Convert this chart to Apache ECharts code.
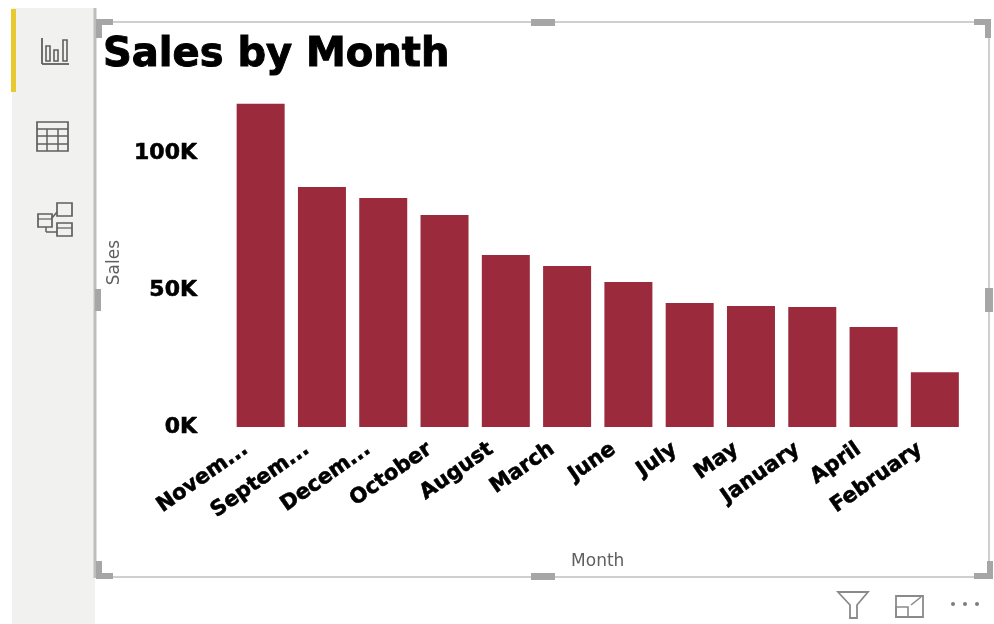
<!DOCTYPE html>
<html><head><meta charset="utf-8">
<style>html,body{margin:0;padding:0;background:#fff}#c{width:994px;height:624px}</style>
<script src="https://cdn.jsdelivr.net/npm/echarts@6/dist/echarts.min.js"></script></head>
<body><div id="c"></div>
<script>
const titleText = "Sales by Month";
const categories = ["Novem...","Septem...","Decem...","October","August","March","June","July","May","January","April","February"];
const sales = [118,87.6,83.6,77.4,62.8,58.8,52.9,45.3,44.2,43.8,36.5,20];
const yTicks = {min:0,max:120,interval:50};
const axisNames = {x:"Month",y:"Sales"};

const gray='#a6a6a6', icon='#5f5f5f';
function line(x1,y1,x2,y2,c,w){return {type:'line',silent:true,shape:{x1,y1,x2,y2},style:{stroke:c,lineWidth:w,fill:null}};}
function rect(x,y,width,height,fill,stroke,lw){return {type:'rect',silent:true,shape:{x,y,width,height},style:{fill:fill||'none',stroke:stroke||null,lineWidth:lw||0}};}
const els=[
 rect(12,8,83,616,'#f1f1f0'),
 rect(11,9,5,83,'#e8c92f'),
 line(95,8,95,578,'#bdbdbd',3),
 line(97,22,989,22,'#cfcfcf',2),
 line(97,577,989,577,'#cfcfcf',2),
 line(989,22,989,577,'#cfcfcf',2),
 rect(96,19,17,6,gray),rect(96,19,6,19,gray),
 rect(531,19,24,7,gray),
 rect(974,19,17,6,gray),rect(985,19,6,19,gray),
 rect(95,289,6,22,gray),rect(985,288,8,24,gray),
 rect(96,573,17,6,gray),rect(96,561,6,18,gray),
 rect(531,573,24,7,gray),
 rect(974,573,19,6,gray),rect(987,561,6,18,gray),
 line(42,38,42,64,icon,1.8),line(42,64,69,64,icon,1.8),
 rect(46,46,4,15,null,icon,1.6),rect(54,50,4,11,null,icon,1.6),rect(63,40,4,21,null,icon,1.6),
 rect(37,122,31,29,null,icon,1.7),
 line(37,129,68,129,icon,1.5),line(37,136,68,136,icon,1.5),line(37,144,68,144,icon,1.5),
 line(47,129,47,151,icon,1.5),line(58,129,58,151,icon,1.5),
 rect(38,214,14,13,null,icon,1.7),rect(57,203,15,13,null,icon,1.7),rect(57,223,15,13,null,icon,1.7),
 line(52,218,57,212,icon,1.5),line(46,227,46,232,icon,1.5),line(46,232,57,232,icon,1.5),
 line(38,219,52,219,icon,1.2),line(57,228,72,228,icon,1.2),
 {type:'polygon',silent:true,shape:{points:[[838,592],[868,592],[857,605],[857,618],[850,618],[850,605]]},style:{fill:'none',stroke:'#8a8a8a',lineWidth:1.8}},
 rect(896,596,27,21,null,'#8a8a8a',1.8),rect(896,607,12,10,null,'#8a8a8a',1.6),
 line(911,605,921,597,'#8a8a8a',1.6),
 {type:'circle',silent:true,shape:{cx:953,cy:604,r:2},style:{fill:'#7d7d7d'}},
 {type:'circle',silent:true,shape:{cx:965,cy:604,r:2},style:{fill:'#7d7d7d'}},
 {type:'circle',silent:true,shape:{cx:977,cy:604,r:2},style:{fill:'#7d7d7d'}}
];
const chart=echarts.init(document.getElementById('c'),null,{renderer:'canvas'});
chart.setOption({
 animation:false,
 backgroundColor:'#fff',
 title:{text:titleText,left:103,top:36,padding:0,textStyle:{fontFamily:'DejaVu Sans',fontWeight:'bold',fontSize:40,color:'#000',textBorderColor:'#000',textBorderWidth:1}},
 grid:{left:230,right:28.5,top:98.2,bottom:197,containLabel:false},
 xAxis:{type:'category',data:categories,name:axisNames.x,nameLocation:'middle',nameGap:126,
  nameTextStyle:{fontFamily:'DejaVu Sans',fontSize:17,color:'#5f5f5f'},
  axisLine:{show:false},axisTick:{show:false},
  axisLabel:{interval:0,rotate:35,margin:10,padding:[0,18,0,0],fontFamily:'DejaVu Sans',fontWeight:'bold',fontSize:21,color:'#000',textBorderColor:'#000',textBorderWidth:0.6}},
 yAxis:{type:'value',min:yTicks.min,max:yTicks.max,interval:yTicks.interval,name:axisNames.y,nameLocation:'middle',nameGap:104,nameRotate:90,
  nameTextStyle:{fontFamily:'DejaVu Sans',fontSize:17,color:'#5f5f5f'},
  splitLine:{show:false},axisLine:{show:false},axisTick:{show:false},
  axisLabel:{showMaxLabel:false,margin:33,padding:[5,0,0,0],fontFamily:'DejaVu Sans',fontWeight:'bold',fontSize:22,color:'#000',textBorderColor:'#000',textBorderWidth:0.6,formatter:v=>v+'K'}},
 series:[{type:'bar',data:sales,barWidth:48,itemStyle:{color:'#9a2a3c'}}],
 graphic:{elements:els}
});
</script></body></html>
